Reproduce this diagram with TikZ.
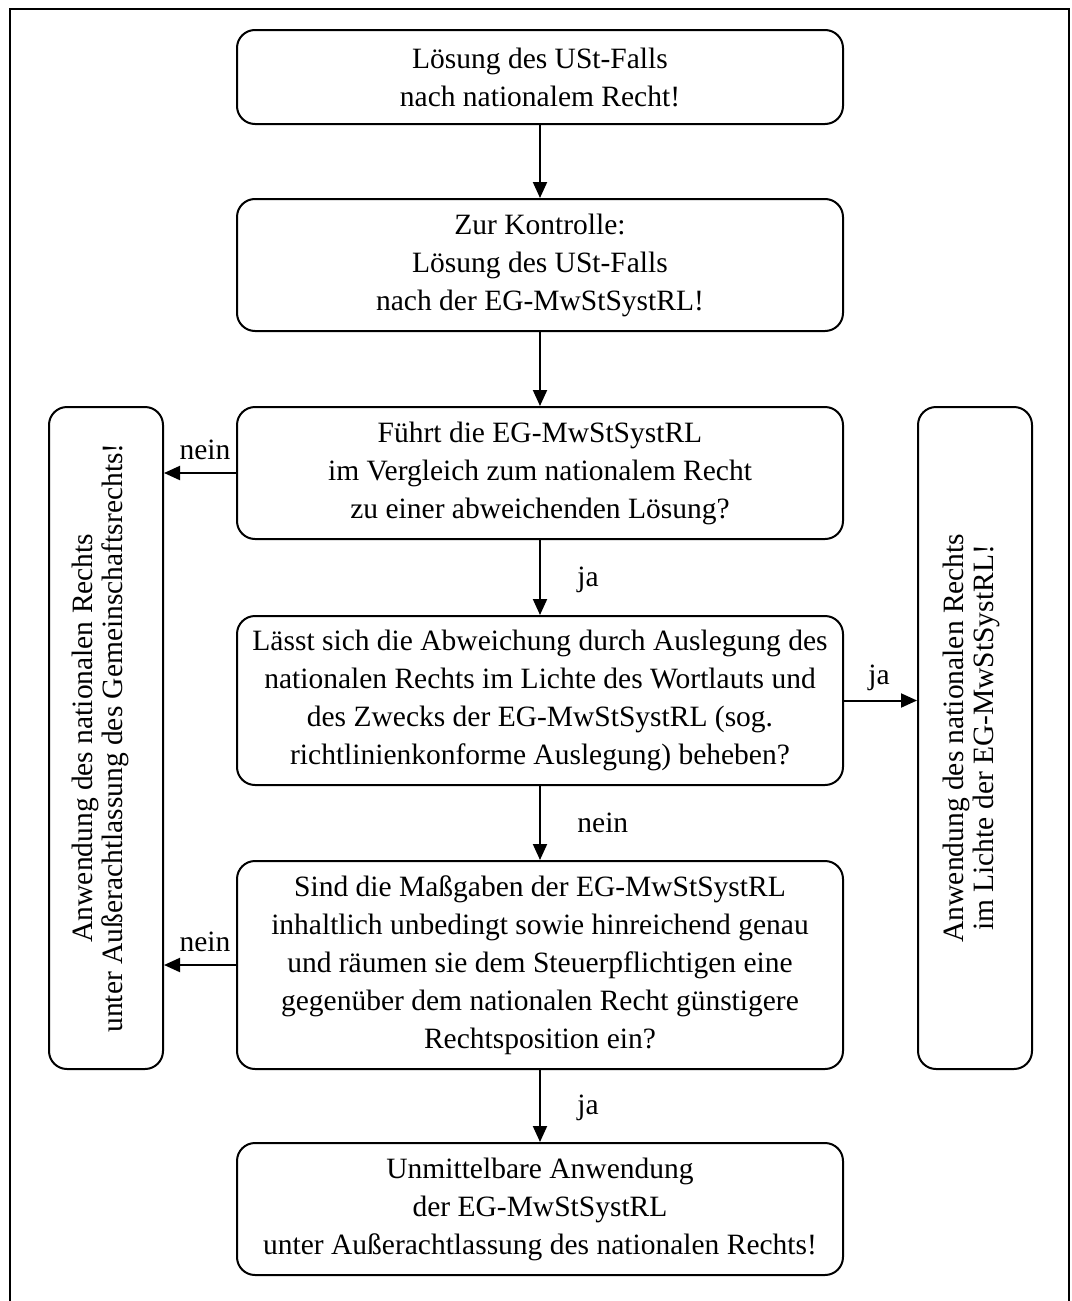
\documentclass[tikz,border=0pt]{standalone}
\usepackage{fontspec}
\setmainfont{Liberation Serif}
\usetikzlibrary{arrows.meta}
\newcommand{\flowfont}{\fontsize{14.75pt}{19pt}\selectfont}
\newcommand{\sidefont}{\fontsize{14.75pt}{15pt}\selectfont}
\begin{document}
\begin{tikzpicture}[x=0.5pt,y=-0.5pt,
  flowbox/.style={draw, line width=1pt, rounded corners=9pt, align=center,
    inner sep=0pt, font=\flowfont, minimum width=303pt},
  sidebox/.style={draw, line width=1pt, rounded corners=9pt, inner sep=0pt,
    minimum width=57pt, minimum height=331pt},
  sidetext/.style={rotate=90, align=center, inner sep=0pt, font=\sidefont},
  arr/.style={line width=1pt, -{Triangle[length=8pt,width=7pt]}},
  lbl/.style={font=\flowfont, inner sep=0pt}]
\useasboundingbox (0,0) rectangle (1071,1301);
% outer frame (open at the bottom)
\draw[line width=1.3pt] (10,1310) -- (10,9) -- (1069,9) -- (1069,1310);

% main column
\node[flowbox, minimum height=47pt] (b1) at (540,77)
  {Lösung des USt-Falls\\nach nationalem Recht!};
\node[flowbox, minimum height=66pt] (b2) at (540,265)
  {Zur Kontrolle:\\Lösung des USt-Falls\\nach der EG-MwStSystRL!};
\node[flowbox, minimum height=66pt] (b3) at (540,473)
  {Führt die EG-MwStSystRL\\im Vergleich zum nationalem Recht\\zu einer abweichenden Lösung?};
\node[flowbox, minimum height=84.5pt] (b4) at (540,700.5)
  {Lässt sich die Abweichung durch Auslegung des\\nationalen Rechts im Lichte des Wortlauts und\\des Zwecks der EG-MwStSystRL (sog.\\richtlinienkonforme Auslegung) beheben?};
\node[flowbox, minimum height=104pt] (b5) at (540,965)
  {Sind die Maßgaben der EG-MwStSystRL\\inhaltlich unbedingt sowie hinreichend genau\\und räumen sie dem Steuerpflichtigen eine\\gegenüber dem nationalen Recht günstigere\\Rechtsposition ein?};
\node[flowbox, minimum height=66pt] (b6) at (540,1209)
  {Unmittelbare Anwendung\\der EG-MwStSystRL\\unter Außerachtlassung des nationalen Rechts!};

% side results: frame plus vertical text
\node[sidebox] (lres) at (106,738) {};
\node[sidetext] (ltext) at (100,738)
  {Anwendung des nationalen Rechts\\unter Außerachtlassung des Gemeinschaftsrechts!};
\node[sidebox] (rres) at (975,738) {};
\node[sidetext] (rtext) at (971,738)
  {Anwendung des nationalen Rechts\\im Lichte der EG-MwStSystRL!};

% connectors
\draw[arr] (b1.south) -- (b2.north);
\draw[arr] (b2.south) -- (b3.north);
\draw[arr] (b3.south) -- (b4.north);
\draw[arr] (b4.south) -- (b5.north);
\draw[arr] (b5.south) -- (b6.north);
\draw[arr] (b3.west) -- (b3.west -| lres.east);
\draw[arr] (b5.west) -- (b5.west -| lres.east);
\draw[arr] (b4.east) -- (b4.east -| rres.west);

% labels
\node[lbl] (l3) at (205,450) {nein};
\node[lbl] (l34) at (588,580) {ja};
\node[lbl] (l4r) at (879,678) {ja};
\node[lbl, anchor=west] (l45) at (577,823) {nein};
\node[lbl] (l5) at (205,942) {nein};
\node[lbl] (l56) at (588,1108) {ja};
\end{tikzpicture}
\end{document}
